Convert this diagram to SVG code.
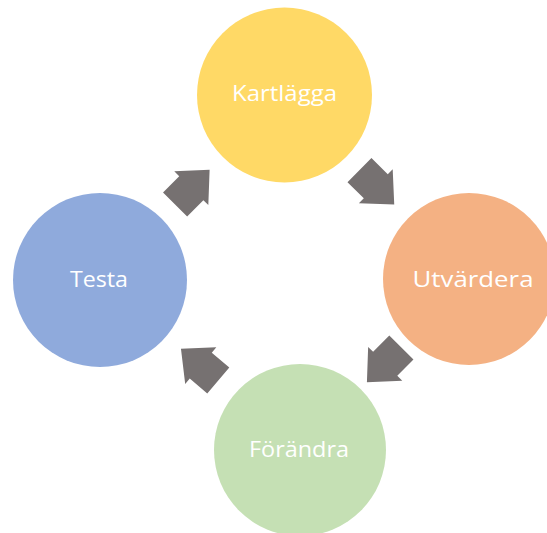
<svg xmlns="http://www.w3.org/2000/svg" width="547" height="533" viewBox="0 0 547 533">
  <defs>
    <path id="arrow" d="M-24,-17 L-1,-17 L-1,-24 L25,0 L-1,24 L-1,17 L-24,17 Z"/>
  </defs>
  <style>
    .lbl { font-family: "Open Sans", "Liberation Sans", sans-serif; font-size: 22px; fill: #ffffff; text-anchor: middle; }
    .arr { fill: #767171; }
  </style>
  <rect width="547" height="533" fill="#ffffff"/>
  <g id="connectors">
    <use href="#arrow" class="arr" transform="translate(376.5,187) rotate(44.8)"/>
    <use href="#arrow" class="arr" transform="translate(384.5,364.5) rotate(134.7)"/>
    <use href="#arrow" class="arr" transform="translate(200,365) rotate(220.4)"/>
    <use href="#arrow" class="arr" transform="translate(192,187.5) rotate(-45.2)"/>
  </g>
  <g id="kartlagga">
    <circle cx="284.5" cy="95" r="87.5" fill="#FFD966"/>
    <text class="lbl" x="284.5" y="101" textLength="105" lengthAdjust="spacingAndGlyphs">Kartlägga</text>
  </g>
  <g id="utvardera">
    <circle cx="469" cy="279" r="86" fill="#F4B183"/>
    <text class="lbl" x="473" y="287" textLength="121" lengthAdjust="spacingAndGlyphs">Utvärdera</text>
  </g>
  <g id="forandra">
    <circle cx="300" cy="450" r="86" fill="#C5E0B4"/>
    <text class="lbl" x="299" y="456.5" textLength="100" lengthAdjust="spacingAndGlyphs">Förändra</text>
  </g>
  <g id="testa">
    <circle cx="100" cy="280" r="87" fill="#8FAADC"/>
    <text class="lbl" x="99" y="287" textLength="58" lengthAdjust="spacingAndGlyphs">Testa</text>
  </g>
</svg>
